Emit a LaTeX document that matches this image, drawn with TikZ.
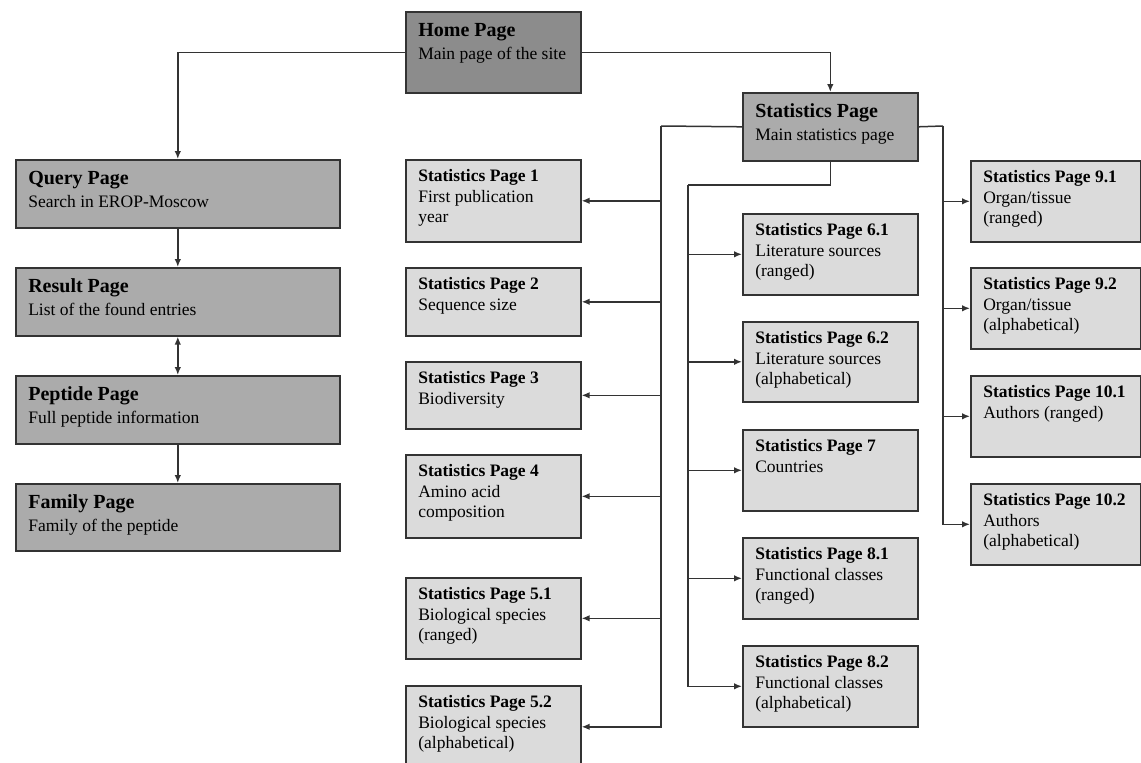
\documentclass[tikz,border=0pt]{standalone}
\usepackage{fontspec}
\setmainfont{Liberation Serif}
\usetikzlibrary{arrows.meta}

\tikzset{
  pagebox/.style={draw=black!80, line width=1.6pt, inner xsep=12.5pt, inner ysep=0pt,
    anchor=north west, font=\fontsize{17.5}{20.5}\selectfont},
  homebox/.style={pagebox, fill=black!45},
  mainbox/.style={pagebox, fill=black!33},
  subbox/.style={pagebox, fill=black!14},
  link/.style={draw=black!80, line width=1.5pt},
  tip/.style={link, -{Latex[length=8pt,width=6.5pt]}},
  both/.style={link, {Latex[length=8pt,width=6.5pt]}-{Latex[length=8pt,width=6.5pt]}},
}
\newcommand{\maintext}[4]{\parbox[c][#2pt][t]{#1pt}{\rule{0pt}{25pt}{\fontsize{20}{23}\selectfont\bfseries #3}\\[2pt]#4}}
\newcommand{\subtext}[4]{\parbox[c][#2pt][t]{#1pt}{\rule{0pt}{22pt}\textbf{#3}\\#4}}

\begin{document}
\begin{tikzpicture}[x=1pt,y=-1pt]
\useasboundingbox (0,0) rectangle (1141,763);

\node[homebox] (home) at (405,11) {\maintext{150}{81}{Home Page}{Main page of the site}};

\node[mainbox] (query) at (15,159) {\maintext{299}{68}{Query Page}{Search in EROP-Moscow}};
\node[mainbox] (result) at (15,267) {\maintext{299}{68}{Result Page}{List of the found entries}};
\node[mainbox] (peptide) at (15,375) {\maintext{299}{68}{Peptide Page}{Full peptide information}};
\node[mainbox] (family) at (15,483) {\maintext{299}{67}{Family Page}{Family of the peptide}};

\node[mainbox] (stats) at (742,92) {\maintext{150}{68}{Statistics Page}{Main statistics page}};

\node[subbox] (s1) at (405,159) {\subtext{150}{82}{Statistics Page 1}{First publication\\year}};
\node[subbox] (s2) at (405,267) {\subtext{150}{68}{Statistics Page 2}{Sequence size}};
\node[subbox] (s3) at (405,361) {\subtext{150}{67}{Statistics Page 3}{Biodiversity}};
\node[subbox] (s4) at (405,454) {\subtext{150}{83}{Statistics Page 4}{Amino acid\\composition}};
\node[subbox] (s51) at (405,577) {\subtext{150}{81}{Statistics Page 5.1}{Biological species\\(ranged)}};
\node[subbox] (s52) at (405,685) {\subtext{150}{82}{Statistics Page 5.2}{Biological species\\(alphabetical)}};

\node[subbox] (s61) at (742,213) {\subtext{150}{81}{Statistics Page 6.1}{Literature sources\\(ranged)}};
\node[subbox] (s62) at (742,321) {\subtext{150}{80}{Statistics Page 6.2}{Literature sources\\(alphabetical)}};
\node[subbox] (s7) at (742,429) {\subtext{150}{81}{Statistics Page 7}{Countries}};
\node[subbox] (s81) at (742,537) {\subtext{150}{81}{Statistics Page 8.1}{Functional classes\\(ranged)}};
\node[subbox] (s82) at (742,645) {\subtext{150}{81}{Statistics Page 8.2}{Functional classes\\(alphabetical)}};

\node[subbox] (s91) at (970,160) {\subtext{145}{81}{Statistics Page 9.1}{Organ/tissue\\(ranged)}};
\node[subbox] (s92) at (970,267) {\subtext{145}{81}{Statistics Page 9.2}{Organ/tissue\\(alphabetical)}};
\node[subbox] (s101) at (970,375) {\subtext{145}{81}{Statistics Page 10.1}{Authors (ranged)}};
\node[subbox] (s102) at (970,483) {\subtext{145}{81}{Statistics Page 10.2}{Authors\\(alphabetical)}};

\draw[tip] (home.west) -| (query.north);
\draw[tip] (home.east) -| (stats.north);
\draw[tip] (query.south) -- (result.north);
\draw[both] (result.south) -- (peptide.north);
\draw[tip] (peptide.south) -- (family.north);

\coordinate (ltrunk) at (661,126);
\draw[link] (stats.west) -- (ltrunk);
\draw[tip] (ltrunk) |- (s52.east);
\foreach \n in {s1,s2,s3,s4,s51} \draw[tip] (ltrunk |- \n.east) -- (\n.east);

\coordinate (mtrunk) at (688,185);
\draw[link] (stats.south) |- (mtrunk);
\draw[tip] (mtrunk) |- (s82.west);
\foreach \n in {s61,s62,s7,s81} \draw[tip] (mtrunk |- \n.west) -- (\n.west);

\coordinate (rtrunk) at (943,126);
\draw[link] (stats.east) -- (rtrunk);
\draw[tip] (rtrunk) |- (s102.west);
\foreach \n in {s91,s92,s101} \draw[tip] (rtrunk |- \n.west) -- (\n.west);
\end{tikzpicture}
\end{document}
